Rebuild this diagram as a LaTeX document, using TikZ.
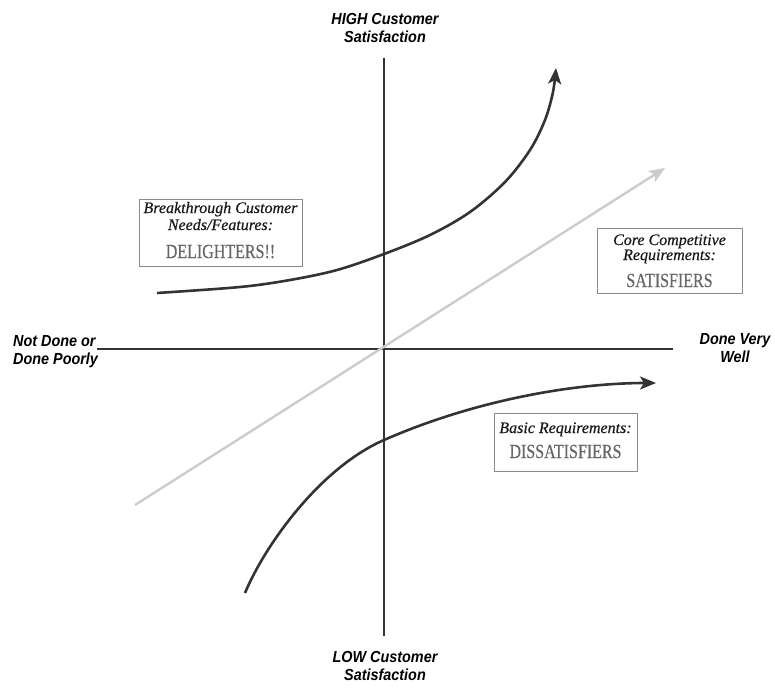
\documentclass[tikz,border=0pt]{standalone}
\usepackage{fontspec}
\usetikzlibrary{arrows.meta}
\newfontfamily\axisfont[FakeStretch=0.9]{Liberation Sans}
\newfontfamily\notefont[FakeBold=0.5]{Liberation Serif}
\newfontfamily\capsfont[FakeStretch=0.8,FakeBold=0.4]{Liberation Serif}
\definecolor{ink}{HTML}{333333}
\definecolor{pale}{HTML}{CCCCCC}
\definecolor{capgray}{HTML}{666666}
\definecolor{framegray}{HTML}{8A8A8A}
\tikzset{
  axisline/.style={draw=ink, line width=2.6pt},
  curve/.style={draw=ink, line width=2.6pt, -{Stealth[length=16pt,width=13pt,inset=4pt]}},
  trend/.style={draw=pale, line width=2.4pt, -{Stealth[length=16pt,width=13pt,inset=4pt]}},
  axislabel/.style={inner sep=0pt, text=black, font=\axisfont\bfseries\itshape\fontsize{16}{18}\selectfont},
  infobox/.style={draw=framegray, line width=0.9pt, rectangle, inner sep=0pt},
  notetext/.style={inner sep=0pt, anchor=base, text=black!90, font=\notefont\itshape\fontsize{16}{17}\selectfont},
  captext/.style={inner sep=0pt, anchor=base, text=capgray, font=\capsfont\fontsize{20}{22}\selectfont},
}
\begin{document}
\begin{tikzpicture}[x=1pt, y=-1pt]
  \useasboundingbox (0,0) rectangle (775,687);

  % axes
  \coordinate (top) at (384,58);
  \coordinate (bottom) at (384,636);
  \coordinate (left) at (97,349);
  \coordinate (right) at (673,349);
  \draw[axisline] (top) -- (bottom);
  \draw[axisline] (left) -- (right);

  % satisfiers trend line through the origin
  \coordinate (satStart) at (135,505);
  \coordinate (satEnd) at (665,168);
  \draw[trend] (satStart) -- (satEnd);

  % delighters curve
  \draw[curve] plot[smooth, tension=0.55] coordinates {
    (157,293) (240,287) (290,280) (337,270) (384,254) (430,235)
    (470,212) (505,182) (530,150) (545,120) (553,92) (556,68)};

  % dissatisfiers curve
  \coordinate (disStart) at (245,593);
  \coordinate (disMid) at (384,440);
  \coordinate (disEnd) at (656,383);
  \draw[curve] (disStart) .. controls (265,545) and (320,468) .. (disMid)
                          .. controls (480,398) and (580,383) .. (disEnd);

  % axis labels
  \node[axislabel, anchor=north, align=center] (highLbl) at (385,13) {HIGH Customer\\Satisfaction};
  \node[axislabel, anchor=north, align=center] (lowLbl) at (385,651) {LOW Customer\\Satisfaction};
  \node[axislabel, anchor=north west, align=left] (leftLbl) at (13,335) {Not Done or\\Done Poorly};
  \node[axislabel, anchor=north, align=center] (rightLbl) at (735,333) {Done Very\\Well};

  % delighters box
  \node[infobox, minimum width=163pt, minimum height=67pt] (delBox) at (220.5,232.5) {};
  \node[notetext] (delA) at (220.5,213) {Breakthrough Customer};
  \node[notetext] (delB) at (220.5,230) {Needs/Features:};
  \node[captext] (delC) at (220.5,258) {DELIGHTERS!!};

  % satisfiers box
  \node[infobox, minimum width=145pt, minimum height=65pt] (satBox) at (669.5,260.5) {};
  \node[notetext] (satA) at (669.5,245) {Core Competitive};
  \node[notetext] (satB) at (669.5,260) {Requirements:};
  \node[captext] (satC) at (669.5,287) {SATISFIERS};

  % dissatisfiers box
  \node[infobox, minimum width=143pt, minimum height=58pt] (disBox) at (565.5,442) {};
  \node[notetext] (disA) at (565.5,433) {Basic Requirements:};
  \node[captext] (disB) at (565.5,458) {DISSATISFIERS};
\end{tikzpicture}
\end{document}
